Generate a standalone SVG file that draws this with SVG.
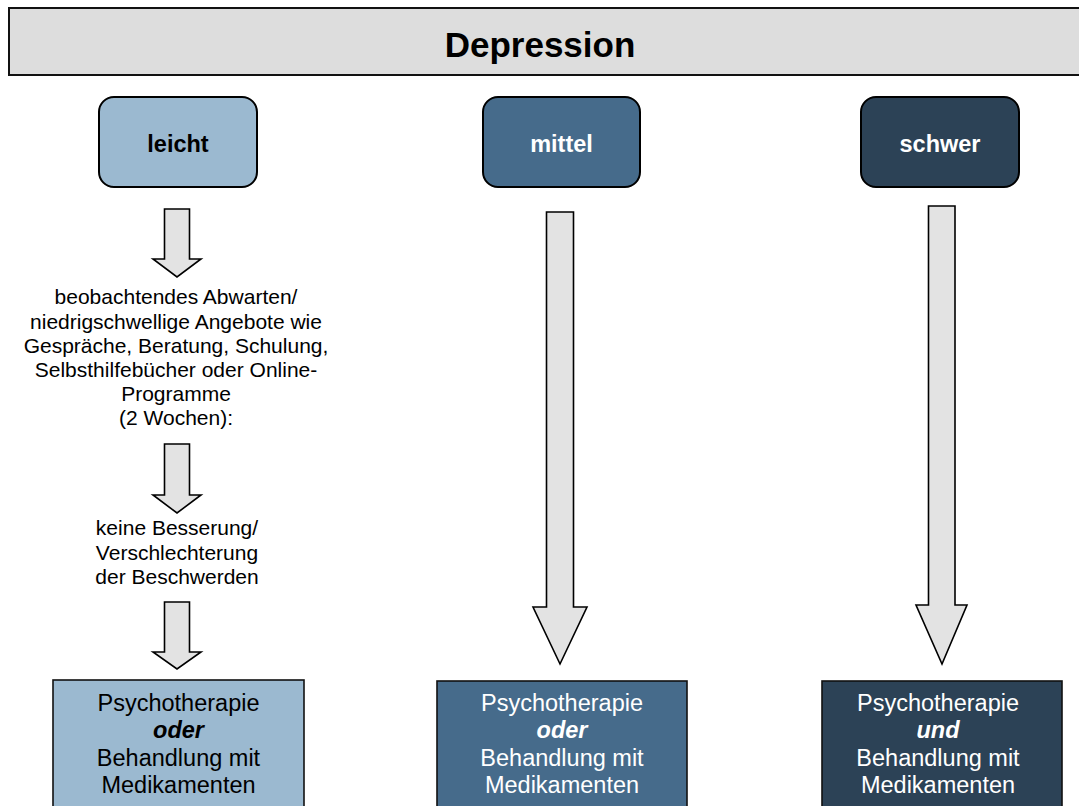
<svg xmlns="http://www.w3.org/2000/svg" width="1079" height="806" viewBox="0 0 1079 806">
<style>
text{font-family:"Liberation Sans",Arial,sans-serif;text-anchor:middle}
.lbl{font-weight:bold;font-size:23.5px}
.body{font-size:21px;fill:#000}
.res{font-size:23.5px}
.arr{fill:#e3e3e3;stroke:#000;stroke-width:1.6;stroke-linejoin:miter}
.sev{stroke:#000;stroke-width:2}
.box{stroke:#111;stroke-width:1.6}
.dark{fill:#fff}
.blk{fill:#000}
</style>
<rect width="1079" height="806" fill="#fff"/>
<g id="header">
<rect x="9" y="8" width="1080" height="67" fill="#dddddd" stroke="#111" stroke-width="2"/>
<text x="540" y="57" style="font-weight:bold;font-size:35px">Depression</text>
</g>
<g id="leicht">
<rect class="sev" x="99" y="97" width="158" height="90" rx="15" fill="#9bb9d0"/>
<text class="lbl blk" x="178" y="152">leicht</text>
</g>
<g id="mittel">
<rect class="sev" x="483" y="97" width="157" height="90" rx="15" fill="#466b8b"/>
<text class="lbl dark" x="561.5" y="152">mittel</text>
</g>
<g id="schwer">
<rect class="sev" x="861" y="97" width="158" height="90" rx="15" fill="#2c4256"/>
<text class="lbl dark" x="940" y="152">schwer</text>
</g>
<g id="step1">
<text class="body" x="176"><tspan x="176" y="304">beobachtendes Abwarten/</tspan><tspan x="176" y="328.5">niedrigschwellige Angebote wie</tspan><tspan x="176" y="353">Gespräche, Beratung, Schulung,</tspan><tspan x="176" y="377">Selbsthilfebücher oder Online-</tspan><tspan x="176" y="401">Programme</tspan><tspan x="176" y="425">(2 Wochen):</tspan></text>
</g>
<g id="step2">
<text class="body" x="177"><tspan x="177" y="535">keine Besserung/</tspan><tspan x="177" y="559.5">Verschlechterung</tspan><tspan x="177" y="584">der Beschwerden</tspan></text>
</g>
<g id="result-leicht">
<rect class="box" x="53" y="680" width="251" height="135" fill="#9bb9d0"/>
<text class="res blk" x="178.5"><tspan x="178.5" y="711">Psychotherapie</tspan><tspan x="178.5" y="738" style="font-weight:bold;font-style:italic">oder</tspan><tspan x="178.5" y="766">Behandlung mit</tspan><tspan x="178.5" y="793">Medikamenten</tspan></text>
</g>
<g id="result-mittel">
<rect class="box" x="437" y="681" width="250" height="135" fill="#466b8b"/>
<text class="res dark" x="562"><tspan x="562" y="711">Psychotherapie</tspan><tspan x="562" y="738" style="font-weight:bold;font-style:italic">oder</tspan><tspan x="562" y="766">Behandlung mit</tspan><tspan x="562" y="793">Medikamenten</tspan></text>
</g>
<g id="result-schwer">
<rect class="box" x="822" y="681" width="240" height="135" fill="#2c4256"/>
<text class="res dark" x="938"><tspan x="938" y="711">Psychotherapie</tspan><tspan x="938" y="738" style="font-weight:bold;font-style:italic">und</tspan><tspan x="938" y="766">Behandlung mit</tspan><tspan x="938" y="793">Medikamenten</tspan></text>
</g>
<g id="connectors">
<polygon class="arr" points="164.5,209 189.5,209 189.5,259 201,259 177,277 153,259 164.5,259"/>
<polygon class="arr" points="164.5,444 189.5,444 189.5,495 201,495 177,513 153,495 164.5,495"/>
<polygon class="arr" points="164.5,602 189.5,602 189.5,652 201,652 177,669 153,652 164.5,652"/>
<polygon class="arr" points="546.5,212 573.5,212 573.5,607 587,607 560,664 533,607 546.5,607"/>
<polygon class="arr" points="928.5,206 955,206 955,605 967,605 942,664 916,605 928.5,605"/>
</g>
</svg>
